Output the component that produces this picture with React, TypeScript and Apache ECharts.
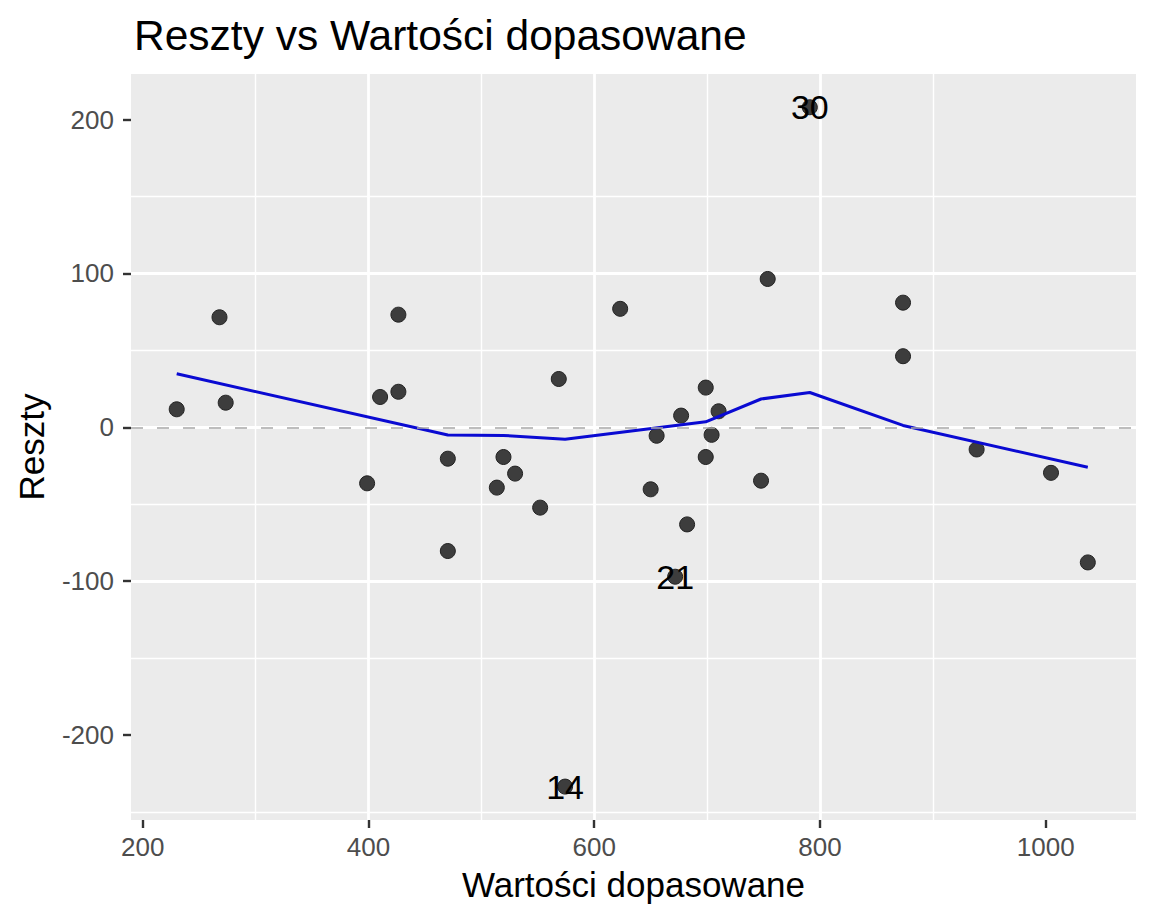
import { useEffect, useRef } from 'react';
import * as echarts from 'echarts';

// wartości dopasowane (x) i reszty (y)
const fittedValues = [
  230.1, 268.0, 273.5, 398.8, 410.3, 426.5, 426.5, 470.3, 470.3, 513.7, 519.6,
  529.9, 552.1, 568.6, 574.2, 623.0, 650.0, 655.3, 671.7, 677.0, 682.3, 698.8,
  698.8, 704.0, 710.2, 747.8, 753.7, 791.0, 873.6, 873.6, 938.8, 1004.7, 1037.3,
];
const residuals = [
  11.7, 71.5, 16.0, -36.4, 19.7, 73.2, 23.1, -20.4, -80.4, -39.2, -19.3,
  -30.1, -52.2, 31.4, -233.5, 77.0, -40.3, -5.5, -97.1, 7.6, -63.1, 25.8,
  -19.3, -4.9, 10.4, -34.7, 96.4, 208.0, 81.0, 46.2, -14.4, -29.6, -87.8,
];

// obserwacje odstające podpisane numerem
const labelIndex = [14, 18, 27];
const labelText = ['14', '21', '30'];

// wygładzenie (loess)
const smoothX = [230.1, 470.3, 519.6, 574.2, 698.8, 747.8, 791.0, 873.6, 1037.3];
const smoothY = [34.8, -5.0, -5.3, -7.8, 3.6, 18.4, 22.6, 1.2, -26.0];

const xTicks = [200, 400, 600, 800, 1000];
const yTicks = [-200, -100, 0, 100, 200];

const X_MIN = 189.6;
const X_MAX = 1080;
const Y_MIN = -255.2;
const Y_MAX = 229.6;

const FONT = '"Liberation Sans", Arial, Helvetica, sans-serif';

export default function App() {
  const chartRef = useRef<HTMLDivElement>(null);

  useEffect(() => {
    if (!chartRef.current) return;
    const chart = echarts.init(chartRef.current, null, { renderer: 'svg' });

    const points = fittedValues.map((x, i) => {
      const k = labelIndex.indexOf(i);
      if (k < 0) return [x, residuals[i]];
      return {
        value: [x, residuals[i]],
        label: {
          show: true,
          position: 'inside',
          formatter: labelText[k],
          fontSize: 34,
          color: '#000',
          fontFamily: FONT,
        },
      };
    });

    const axisCommon = {
      type: 'value' as const,
      // linia osi niewidoczna (jak w ggplot)
      axisLine: { show: true, onZero: false, lineStyle: { color: 'rgba(0,0,0,0)', width: 0 } },
      axisTick: { show: true, length: 8, lineStyle: { color: '#333333', width: 2.4 } },
      splitLine: {
        show: true,
        showMinLine: false,
        showMaxLine: false,
        lineStyle: { color: '#ffffff', width: 2.8 },
      },
      minorTick: { show: false, splitNumber: 2 },
      minorSplitLine: { show: true, lineStyle: { color: '#ffffff', width: 1.4 } },
      nameLocation: 'middle' as const,
      nameTextStyle: { fontSize: 35, color: '#000', fontFamily: FONT },
    };

    chart.setOption({
      animation: false,
      textStyle: { fontFamily: FONT },
      title: {
        text: 'Reszty vs Wartości dopasowane',
        left: 129,
        top: 9,
        textStyle: { fontSize: 42.5, fontWeight: 'normal', color: '#000', fontFamily: FONT },
      },
      grid: {
        left: 131,
        right: 16,
        top: 74,
        bottom: 102,
        show: true,
        backgroundColor: '#EBEBEB',
        borderWidth: 0,
      },
      xAxis: {
        ...axisCommon,
        min: X_MIN,
        max: X_MAX,
        axisTick: { ...axisCommon.axisTick, customValues: xTicks },
        axisLabel: {
          customValues: xTicks,
          formatter: (v: number) => String(v),
          color: '#4D4D4D',
          fontSize: 26,
          margin: 14,
          fontFamily: FONT,
        },
        name: 'Wartości dopasowane',
        nameGap: 47,
      },
      yAxis: {
        ...axisCommon,
        min: Y_MIN,
        max: Y_MAX,
        axisTick: { ...axisCommon.axisTick, customValues: yTicks },
        axisLabel: {
          customValues: yTicks,
          formatter: (v: number) => String(v),
          color: '#4D4D4D',
          fontSize: 26,
          margin: 17,
          fontFamily: FONT,
        },
        name: 'Reszty',
        nameGap: 82,
      },
      series: [
        {
          type: 'line',
          data: [],
          z: 1,
          silent: true,
          markLine: {
            silent: true,
            symbol: ['none', 'none'],
            label: { show: false },
            lineStyle: { color: '#A8A8A8', type: [12, 14], width: 1.6 },
            data: [{ yAxis: 0 }],
          },
        },
        {
          type: 'scatter',
          data: points,
          symbolSize: 15,
          z: 2,
          itemStyle: { color: '#3D3D3D', borderColor: '#222', borderWidth: 1, opacity: 1 },
          emphasis: { disabled: true },
        },
        {
          type: 'line',
          data: smoothX.map((x, i) => [x, smoothY[i]]),
          showSymbol: false,
          symbol: 'none',
          z: 3,
          lineStyle: { color: '#0A0AD2', width: 3 },
          emphasis: { disabled: true },
        },
      ],
    });

    return () => {
      chart.dispose();
    };
  }, []);

  return (
    <div
      ref={chartRef}
      style={{ position: 'fixed', left: 0, top: 0, width: '1152px', height: '922px', background: '#fff' }}
    />
  );
}
